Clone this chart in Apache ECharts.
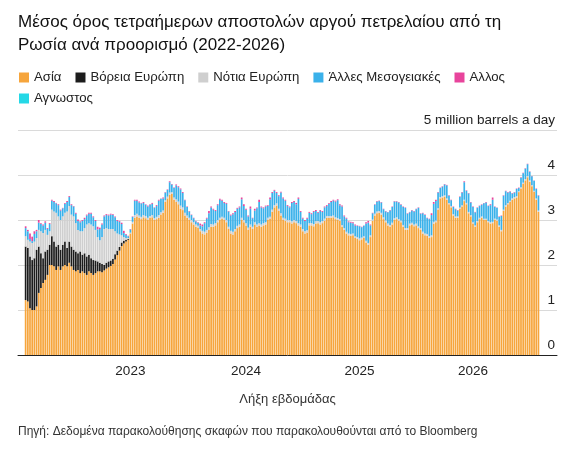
<!DOCTYPE html>
<html>
<head>
<meta charset="utf-8">
<script src="https://cdn.jsdelivr.net/npm/echarts@6/dist/echarts.min.js"></script>
<style>
html, body { margin: 0; padding: 0; background: #fff; }
#chart { width: 567px; height: 449px; }
</style>
</head>
<body>
<div id="chart"></div>
<script>
// 4-day average crude shipments, million barrels a day, one value per week
// first week ends 2022-01-30
const firstWeek = [2022, 0, 30]

const asia = [
  1.22,1.19,1.04,1.00,1.00,1.08,1.38,1.49,1.60,1.67,1.78,2.00,
  2.00,1.97,1.89,1.97,1.89,1.97,2.00,1.97,2.05,1.97,1.89,1.86,
  1.89,1.82,1.86,1.82,1.78,1.86,1.82,1.78,1.82,1.86,1.86,1.84,
  1.88,1.92,1.95,1.98,2.02,2.12,2.22,2.32,2.42,2.48,2.52,2.56,
  2.70,2.92,3.05,3.08,3.05,3.02,3.06,3.04,3.00,3.05,3.06,3.00,
  3.02,3.05,3.12,3.16,3.40,3.48,3.56,3.58,3.45,3.40,3.35,3.25,
  3.22,3.10,3.05,3.00,2.95,2.90,2.85,2.82,2.75,2.70,2.68,2.72,
  2.78,2.85,2.85,2.88,2.95,3.00,3.02,3.00,2.95,2.80,2.70,2.68,
  2.75,2.82,2.85,3.00,2.95,2.88,2.78,2.85,2.80,2.90,2.85,2.88,
  2.85,2.88,2.90,3.00,3.02,3.18,3.28,3.32,3.20,3.10,3.00,2.98,
  2.95,2.95,2.92,2.95,2.93,2.88,2.85,2.75,2.70,2.72,2.88,2.88,
  2.86,2.92,2.93,2.90,2.93,2.98,3.05,3.05,3.05,3.06,3.02,3.00,
  2.98,2.85,2.78,2.70,2.66,2.65,2.66,2.60,2.58,2.55,2.57,2.60,
  2.50,2.45,2.62,2.98,3.10,3.15,3.16,3.12,3.02,2.95,2.88,2.85,
  2.90,3.00,3.02,2.98,2.95,2.85,2.78,2.78,2.88,2.90,2.86,2.88,
  2.82,2.78,2.70,2.66,2.65,2.60,2.62,2.92,2.95,3.22,3.48,3.50,
  3.52,3.45,3.35,3.28,3.10,3.05,3.05,3.25,3.30,3.42,3.35,3.15,
  3.08,2.92,2.85,2.95,3.02,3.05,3.00,3.00,2.95,2.92,2.93,3.00,
  2.98,2.85,2.75,3.20,3.30,3.35,3.40,3.45,3.48,3.50,3.62,3.70,
  3.80,3.88,3.95,3.85,3.75,3.62,3.45,3.18
]

// nothing visible after the first week of 2023
const northEurope = [
  1.19,1.19,1.15,1.11,1.15,1.26,1.03,0.77,0.55,0.63,0.56,0.45,
  0.64,0.55,0.52,0.48,0.45,0.48,0.52,0.41,0.47,0.44,0.45,0.44,
  0.37,0.48,0.37,0.44,0.41,0.37,0.33,0.33,0.28,0.22,0.19,0.18,
  0.12,0.13,0.13,0.12,0.12,0.12,0.10,0.08,0.08,0.06,0.04,0.02
]

const southEurope = [
  0.23,0.18,0.33,0.38,0.37,0.26,0.37,0.49,0.56,0.48,0.33,0.30,
  0.59,0.67,0.75,0.63,0.66,0.63,0.64,0.81,0.79,0.71,0.74,0.63,
  0.52,0.45,0.52,0.56,0.71,0.70,0.75,0.75,0.68,0.54,0.50,0.60,
  0.80,0.77,0.72,0.70,0.66,0.51,0.38,0.28,0.16,0.08,0.04,0.02,
  0.02,0.04,0.06,0.06,0.05,0.05,0.05,0.05,0.05,0.04,0.05,0.04,
  0.05,0.06,0.05,0.05,0.04,0.04,0.05,0.04,0.05,0.06,0.06,0.07,
  0.06,0.06,0.05,0.05,0.05,0.05,0.05,0.05,0.05,0.06,0.06,0.06,
  0.06,0.06,0.05,0.05,0.05,0.05,0.05,0.05,0.05,0.05,0.06,0.06,
  0.05,0.05,0.05,0.05,0.05,0.05,0.05,0.05,0.05,0.05,0.05,0.05,
  0.05,0.05,0.05,0.05,0.05,0.05,0.05,0.05,0.05,0.05,0.05,0.05,
  0.05,0.05,0.05,0.05,0.05,0.05,0.05,0.05,0.05,0.05,0.05,0.05,
  0.05,0.05,0.05,0.05,0.05,0.05,0.04,0.04,0.04,0.04,0.04,0.04,
  0.04,0.04,0.04,0.04,0.04,0.04,0.04,0.04,0.04,0.04,0.04,0.04,
  0.04,0.04,0.04,0.03,0.04,0.04,0.04,0.04,0.04,0.04,0.04,0.04,
  0.04,0.04,0.04,0.04,0.04,0.04,0.04,0.04,0.04,0.04,0.04,0.04,
  0.04,0.04,0.04,0.04,0.04,0.04,0.04,0.04,0.04,0.04,0.03,0.03,
  0.03,0.03,0.03,0.03,0.03,0.03,0.03,0.03,0.03,0.03,0.03,0.03,
  0.03,0.03,0.03,0.03,0.03,0.03,0.03,0.03,0.03,0.03,0.03,0.03,
  0.03,0.03,0.03,0.03,0.03,0.03,0.03,0.03,0.03,0.03,0.02,0.03,
  0.03,0.03,0.03,0.03,0.03,0.03,0.03,0.03
]

const otherMed = [
  0.18,0.19,0.06,0.04,0.17,0.15,0.16,0.16,0.17,0.16,0.13,0.16,
  0.20,0.21,0.21,0.25,0.21,0.18,0.20,0.21,0.20,0.21,0.22,0.21,
  0.20,0.20,0.23,0.20,0.20,0.21,0.24,0.20,0.20,0.17,0.25,0.28,
  0.28,0.29,0.30,0.32,0.31,0.31,0.28,0.28,0.25,0.09,0.07,0.04,
  0.07,0.11,0.32,0.29,0.29,0.30,0.27,0.25,0.25,0.25,0.25,0.23,
  0.24,0.32,0.30,0.27,0.17,0.15,0.23,0.17,0.21,0.31,0.32,0.36,
  0.32,0.28,0.19,0.14,0.11,0.09,0.07,0.07,0.08,0.10,0.19,0.25,
  0.31,0.37,0.33,0.27,0.33,0.40,0.36,0.33,0.36,0.34,0.34,0.39,
  0.38,0.38,0.38,0.41,0.31,0.30,0.25,0.35,0.19,0.26,0.36,0.47,
  0.38,0.33,0.35,0.26,0.39,0.37,0.32,0.23,0.28,0.46,0.43,0.40,
  0.31,0.28,0.41,0.40,0.37,0.54,0.28,0.23,0.23,0.26,0.23,0.20,
  0.27,0.23,0.18,0.25,0.20,0.25,0.22,0.27,0.31,0.33,0.35,0.40,
  0.31,0.41,0.26,0.29,0.25,0.25,0.23,0.24,0.25,0.27,0.23,0.23,
  0.38,0.45,0.22,0.14,0.20,0.22,0.22,0.23,0.18,0.20,0.25,0.32,
  0.35,0.37,0.35,0.37,0.35,0.40,0.45,0.32,0.25,0.27,0.29,0.32,
  0.41,0.32,0.41,0.41,0.35,0.38,0.45,0.40,0.43,0.35,0.20,0.21,
  0.24,0.29,0.16,0.13,0.16,0.16,0.13,0.23,0.28,0.39,0.27,0.41,
  0.28,0.34,0.29,0.29,0.26,0.26,0.34,0.36,0.33,0.38,0.49,0.26,
  0.26,0.19,0.31,0.31,0.31,0.23,0.20,0.11,0.10,0.16,0.07,0.21,
  0.21,0.23,0.26,0.19,0.19,0.22,0.21,0.33
]

const other = [
  0.04,0.03,0.12,0.10,0.06,0.03,0.06,0.02,0.02,0.03,0.02,0.02,
  0.02,0.02,0.01,0.02,0.02,0.01,0.02,0.02,0.02,0.02,0.01,0.02,
  0.03,0.02,0.02,0.03,0.02,0.02,0.02,0.02,0.02,0.06,0.03,0.02,
  0.02,0.02,0.02,0.02,0.02,0.02,0.02,0.02,0.03,0.05,0.02,0.01,
  0.01,0.01,0.02,0.02,0.02,0.01,0.02,0.01,0.02,0.01,0.02,0.01,
  0.02,0.02,0.01,0.02,0.01,0.01,0.02,0.01,0.01,0.02,0.02,0.02,
  0.02,0.01,0.01,0.01,0.01,0.01,0.01,0.01,0.04,0.04,0.02,0.02,
  0.05,0.02,0.02,0.02,0.02,0.02,0.02,0.02,0.02,0.01,0.02,0.02,
  0.02,0.02,0.02,0.04,0.04,0.02,0.02,0.05,0.01,0.04,0.02,0.05,
  0.02,0.02,0.02,0.02,0.04,0.02,0.02,0.02,0.02,0.02,0.02,0.02,
  0.02,0.02,0.02,0.02,0.03,0.03,0.02,0.02,0.02,0.02,0.02,0.02,
  0.02,0.02,0.02,0.02,0.02,0.02,0.02,0.02,0.02,0.02,0.02,0.02,
  0.02,0.02,0.02,0.02,0.02,0.02,0.02,0.02,0.01,0.01,0.01,0.01,
  0.03,0.04,0.02,0.01,0.01,0.01,0.01,0.01,0.01,0.01,0.01,0.01,
  0.01,0.01,0.01,0.01,0.01,0.01,0.01,0.01,0.01,0.01,0.01,0.01,
  0.01,0.01,0.01,0.01,0.01,0.01,0.04,0.04,0.03,0.01,0.01,0.01,
  0.01,0.01,0.01,0.01,0.01,0.01,0.01,0.01,0.01,0.02,0.01,0.01,
  0.01,0.01,0.01,0.01,0.01,0.01,0.01,0.01,0.01,0.02,0.05,0.01,
  0.01,0.01,0.01,0.01,0.01,0.01,0.01,0.01,0.01,0.01,0.01,0.01,
  0.01,0.01,0.01,0.01,0.01,0.01,0.01,0.01
]

// unknown destination: too small to show at this scale
const unknown = []

const names = ['Ασία', 'Βόρεια Ευρώπη', 'Νότια Ευρώπη', 'Άλλες Μεσογειακές', 'Αλλος', 'Αγνωστος']
const colors = ['#f6a53c', '#1c1c1c', '#cfcfcf', '#3ab1ea', '#e8449c', '#25d8e6']
const yTicks = [0, 1, 2, 3, 4, 5]

const FONT = '"Liberation Sans", Arial, sans-serif'

// empty weeks kept on both sides of the bars
const LEAD = 3
const TRAIL = 8
const start = Date.UTC(firstWeek[0], firstWeek[1], firstWeek[2])
const weeks = []
for (let k = -LEAD; k < asia.length + TRAIL; k++) {
    weeks.push(new Date(start + k * 7 * 864e5))
}
const cats = weeks.map(d => d.toISOString().slice(0, 10))
const pad = arr => cats.map((c, k) => {
    const v = arr[k - LEAD]
    return v === undefined ? '-' : v
})
const isMonthStart = idx => weeks[idx].getUTCDate() <= 7
const isYearStart = idx => weeks[idx].getUTCMonth() === 0 && weeks[idx].getUTCDate() <= 7

const chartDom = document.getElementById('chart')
const chart = echarts.init(chartDom, null, { renderer: 'canvas' })

const legendBase = {
    left: 14,
    icon: 'rect',
    itemWidth: 10,
    itemHeight: 10,
    itemGap: 14,
    selectedMode: false,
    textStyle: { fontFamily: FONT, fontSize: 13.2, color: '#222' }
}

const seriesData = [asia, northEurope, southEurope, otherMed, other, unknown]

const option = {
    animation: false,
    backgroundColor: '#fff',
    textStyle: { fontFamily: FONT },
    title: {
        text: 'Μέσος όρος τετραήμερων αποστολών αργού πετρελαίου από τη\nΡωσία ανά προορισμό (2022-2026)',
        left: 13,
        top: 6,
        textStyle: { fontFamily: FONT, fontSize: 17, fontWeight: 'normal', color: '#111', lineHeight: 23 }
    },
    legend: [
        Object.assign({}, legendBase, { top: 66, data: names.slice(0, 5) }),
        Object.assign({}, legendBase, { top: 87, data: names.slice(5) })
    ],
    grid: { left: 18, right: 10, top: 130, bottom: 94 },
    xAxis: [
        {
            type: 'category',
            position: 'bottom',
            data: cats,
            name: 'Λήξη εβδομάδας',
            nameLocation: 'middle',
            nameGap: 38,
            nameTextStyle: { fontFamily: FONT, fontSize: 13, color: '#333' },
            axisLine: { lineStyle: { color: '#222', width: 1 } },
            axisTick: {
                alignWithLabel: true,
                length: 4,
                lineStyle: { color: '#333' },
                interval: idx => isMonthStart(idx)
            },
            axisLabel: {
                interval: idx => isYearStart(idx),
                formatter: v => v.slice(0, 4),
                margin: 9,
                fontFamily: FONT,
                fontSize: 13.5,
                color: '#222'
            }
        },
        {
            type: 'category',
            position: 'bottom',
            data: cats,
            axisLine: { show: false },
            axisLabel: { show: false },
            axisTick: {
                alignWithLabel: true,
                length: 8,
                lineStyle: { color: '#333' },
                interval: idx => isYearStart(idx)
            }
        }
    ],
    yAxis: {
        type: 'value',
        position: 'right',
        min: yTicks[0],
        max: yTicks[yTicks.length - 1],
        interval: 1,
        axisLine: { show: false },
        axisTick: { show: false },
        splitLine: { lineStyle: { color: '#dadada', width: 1 } },
        axisLabel: {
            inside: true,
            verticalAlign: 'bottom',
            margin: 2,
            padding: [0, 0, 3, 0],
            fontFamily: FONT,
            fontSize: 13.5,
            color: '#222',
            formatter: v => v === 5 ? '5 million barrels a day' : String(v)
        }
    },
    series: names.map((name, s) => ({
        name: name,
        type: 'bar',
        stack: 'total',
        barCategoryGap: '22%',
        itemStyle: { color: colors[s] },
        data: pad(seriesData[s])
    })),
    graphic: [
        {
            type: 'text',
            left: 18,
            top: 426,
            style: {
                text: 'Πηγή: Δεδομένα παρακολούθησης σκαφών που παρακολουθούνται από το Bloomberg',
                font: '12px ' + FONT,
                fill: '#333'
            }
        }
    ]
}

option && chart.setOption(option)
</script>
</body>
</html>
